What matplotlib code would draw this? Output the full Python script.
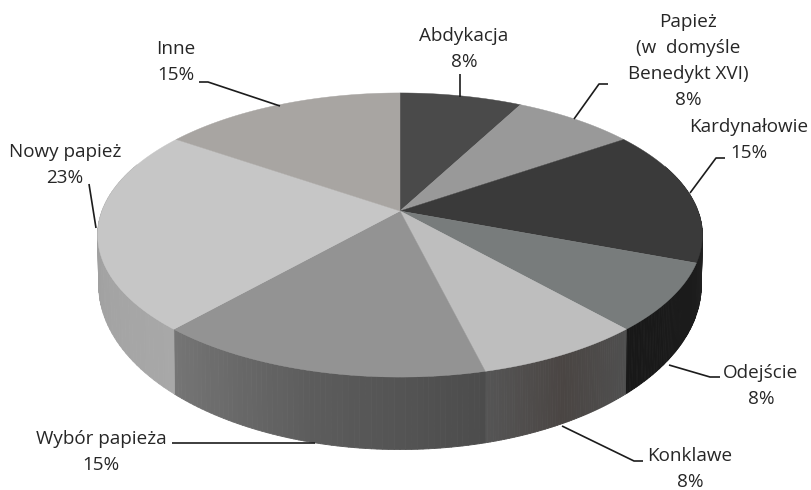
import numpy as np
import matplotlib
matplotlib.use("Agg")
import matplotlib.pyplot as plt
from matplotlib.collections import PolyCollection
from matplotlib.colors import to_rgb

# Data
labels = ["Abdykacja", "Papież\n(w  domyśle\nBenedykt XVI)", "Kardynałowie", "Odejście",
          "Konklawe", "Wybór papieża", "Nowy papież", "Inne"]
shares = [7.7, 7.7, 15.4, 7.7, 7.7, 15.4, 23.1, 15.4]
top_colors = ["#4a4a4a", "#999999", "#3a3a3a", "#787c7c", "#bebebe", "#939393", "#c6c6c6", "#a8a5a2"]
side_start = ["#4a4a4a", "#999999", "#3a3a3a", "#1c1c1c", "#4f4f4f", "#4c4c4c", "#a8a8a8", "#a8a5a2"]
side_mid = ["#4a4a4a", "#999999", "#2c2c2c", "#1a1a1a", "#4a4543", "#5c5c5c", "#a0a0a0", "#a8a5a2"]
side_end = ["#4a4a4a", "#999999", "#1e1e1e", "#181818", "#555555", "#757575", "#b4b4b4", "#a8a5a2"]

# Label anchors (centre of the text block) and leader lines, in pixels
label_pos = [(464, 49), (688, 61), (749, 140), (761, 386), (690, 469), (101, 452), (65, 165), (176, 62)]
leaders = [
    [(460, 74), (460, 97)],
    [(574, 119), (599, 84), (608, 84)],
    [(690, 193), (716, 158), (725, 158)],
    [(669, 365), (710, 377), (720, 377)],
    [(562, 426), (634, 461), (643, 461)],
    [(315, 443), (172, 443)],
    [(96, 228), (89, 184)],
    [(280, 106), (208, 82), (199, 82)],
]

# Disc projection (perspective tilt of the pie)
CX, TOP_Y, BOT_Y = 400, 211, 257
TOP_A, BOT_A = 138, 160
TOP_B, BOT_B = 298, 297
K = 0.169


def rim(theta, y0, a, b):
    x, y = np.sin(theta), np.cos(theta)
    d = 1 + K * y
    return CX + b * x / d, y0 - a * y / d


def lerp(c1, c2, t):
    c1, c2 = np.array(to_rgb(c1)), np.array(to_rgb(c2))
    return c1 + (c2 - c1) * t


fig = plt.figure(figsize=(8.12, 4.9), dpi=100)
ax = fig.add_axes([0, 0, 1, 1])
ax.set_xlim(0, 812)
ax.set_ylim(490, 0)
ax.axis("off")

edges = np.cumsum([0] + shares) / sum(shares) * 2 * np.pi

# Side wall, only the front part shows
quads, quad_colors = [], []
for i in range(len(shares)):
    th = np.linspace(edges[i], edges[i + 1], 61)
    for j in range(60):
        if np.cos(th[j]) > 0.35:
            continue
        x1, y1 = rim(th[j:j + 2], TOP_Y, TOP_A, TOP_B)
        x2, y2 = rim(th[j:j + 2], BOT_Y, BOT_A, BOT_B)
        quads.append([(x1[0], y1[0]), (x1[1], y1[1]), (x2[1], y2[1]), (x2[0], y2[0])])
        t = j / 59
        if t < 0.5:
            quad_colors.append(lerp(side_start[i], side_mid[i], t * 2))
        else:
            quad_colors.append(lerp(side_mid[i], side_end[i], t * 2 - 1))
ax.add_collection(PolyCollection(quads, facecolors=quad_colors, edgecolors=quad_colors, linewidths=0.6))

# Top face
for i in range(len(shares)):
    th = np.linspace(edges[i], edges[i + 1], 80)
    xs, ys = rim(th, TOP_Y, TOP_A, TOP_B)
    ax.fill(np.r_[CX, xs], np.r_[TOP_Y, ys], color=top_colors[i], lw=0.3)

for pts in leaders:
    ax.plot(*zip(*pts), color="#1c1c1c", lw=1.2, solid_capstyle="butt")

for name, share, pos in zip(labels, shares, label_pos):
    ax.text(pos[0], pos[1], f"{name}\n{round(share)}%", ha="center", va="center",
            family="Open Sans", fontsize=13.6, color="#262626", linespacing=1.56)

plt.savefig("out.png", dpi=100)
plt.close()
